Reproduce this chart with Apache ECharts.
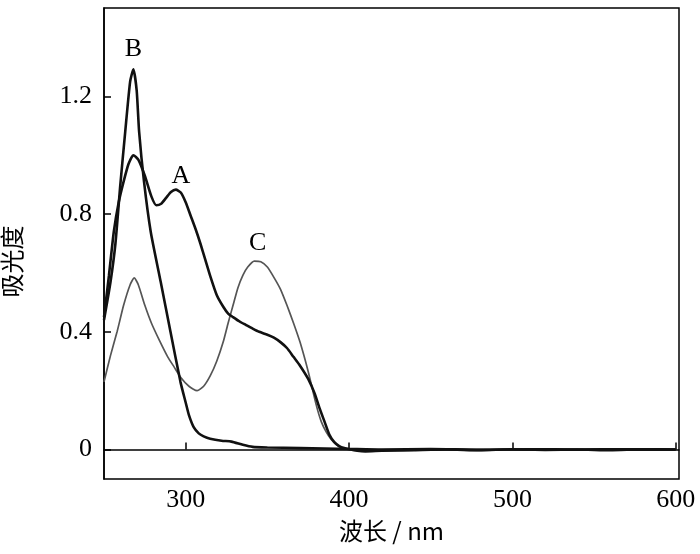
<!DOCTYPE html>
<html><head><meta charset="utf-8">
<script src="https://cdn.jsdelivr.net/npm/echarts@6/dist/echarts.min.js"></script>
<style>html,body{margin:0;padding:0;background:#fff}#c{width:700px;height:554px}</style>
</head><body><div id="c"></div>
<script>
// Curve A
const wlA = [250,253,256,259,262,265,268,271,275,279,282,285,288,291,294,297,300,303,306,309,312,315,319,323,326,329,333,337,341,345,350,354,358,362,366,370,375,379,382,385,388,391,394,397,400,405,410,420,440,460,480,500,520,540,560,580,600];
const absA = [0.45,0.59,0.74,0.84,0.91,0.97,1.00,0.985,0.93,0.86,0.83,0.835,0.855,0.875,0.883,0.873,0.84,0.795,0.75,0.70,0.645,0.59,0.525,0.485,0.462,0.45,0.435,0.423,0.411,0.40,0.39,0.38,0.365,0.345,0.315,0.285,0.24,0.19,0.14,0.095,0.05,0.025,0.012,0.005,0.001,-0.004,-0.006,-0.004,-0.002,0.0,-0.002,0.001,-0.001,0.0,-0.002,0.001,0.0];
// Curve B
const wlB = [250,254,257,260,263,266,268,270,271.5,274.5,278.6,284.7,290.7,296.8,300,302,305,308,311,315,322,328,335,341,350,370,400,420,450,480,510,540,570,600];
const absB = [0.44,0.57,0.70,0.90,1.08,1.25,1.292,1.22,1.08,0.91,0.74,0.57,0.40,0.23,0.16,0.117,0.075,0.055,0.045,0.037,0.03,0.027,0.016,0.009,0.007,0.005,0.002,0.0,0.002,-0.001,0.001,0.0,0.001,0.0];
// Curve C
const wlC = [250,254,258,262,266,268.5,271,275,279,284,289,293,297,302,307,311,315,319,323,326,329,332,335,338,342,346,350,354,358,362,366,370,375,380,383,386,389,392,395,400,410,430,460,500,550,600];
const absC = [0.23,0.32,0.40,0.49,0.56,0.583,0.56,0.49,0.43,0.37,0.315,0.28,0.245,0.215,0.20,0.215,0.25,0.30,0.366,0.43,0.49,0.55,0.592,0.62,0.64,0.638,0.62,0.585,0.545,0.49,0.43,0.365,0.265,0.15,0.095,0.06,0.035,0.018,0.006,0.0,-0.004,-0.003,0.0,-0.001,0.0,0.0];
const xTicks = [300,400,500,600];
const yTicks = [0,0.4,0.8,1.2];
const curveNames = ['A','B','C'];
const labelPos = [[297,0.93],[268,1.36],[344,0.70]];

const pair = (xs, ys) => xs.map((x,i)=>[x, ys[i]]);
const serif = '"Liberation Serif","DejaVu Serif",serif';
const cjk = '"Noto Sans CJK SC","Liberation Serif",serif';

const mk = (name, xs, ys, color, width, lp) => ({
  name, type:'line', data: pair(xs, ys), showSymbol:false, smooth:0.2,
  lineStyle:{color, width}, itemStyle:{color}, z: color==='#111'?3:2,
  markPoint:{symbol:'circle', symbolSize:0, data:[{coord:lp, value:name}],
    label:{show:true, formatter:name, color:'#000', fontFamily:serif, fontSize:26, position:'inside'}}
});

const chart = echarts.init(document.getElementById('c'));
chart.setOption({
  animation:false,
  grid:{left:104, right:21, top:8, bottom:75, show:true, borderColor:'#000', borderWidth:1.5, outerBoundsMode:'none', containLabel:false},
  xAxis:{type:'value', min:250, max:602,
    name:'波长 / nm', nameLocation:'middle', nameGap:40,
    nameTextStyle:{fontFamily:cjk, fontSize:24, color:'#000'},
    axisLine:{lineStyle:{color:'#000', width:1.5}},
    axisTick:{inside:true, length:7, lineStyle:{color:'#000', width:1.5}, customValues:xTicks},
    axisLabel:{color:'#000', fontFamily:serif, fontSize:26, margin:8, customValues:xTicks},
    splitLine:{show:false}},
  yAxis:{type:'value', min:-0.1, max:1.5,
    name:'吸光度', nameLocation:'middle', nameGap:80,
    nameTextStyle:{fontFamily:cjk, fontSize:24, color:'#000', padding:[0,36,0,0]},
    axisLine:{show:true, lineStyle:{color:'#000', width:1.5}},
    axisTick:{show:true, inside:true, length:7, lineStyle:{color:'#000', width:1.5}, customValues:yTicks},
    axisLabel:{color:'#000', fontFamily:serif, fontSize:26, margin:12, customValues:yTicks,
      formatter:v=> (v===0?'0':v.toFixed(1))},
    splitLine:{show:false}},
  series:[
    mk(curveNames[0], wlA, absA, '#111', 2.6, labelPos[0]),
    mk(curveNames[1], wlB, absB, '#111', 2.6, labelPos[1]),
    mk(curveNames[2], wlC, absC, '#555', 1.7, labelPos[2])
  ]
});
</script></body></html>
